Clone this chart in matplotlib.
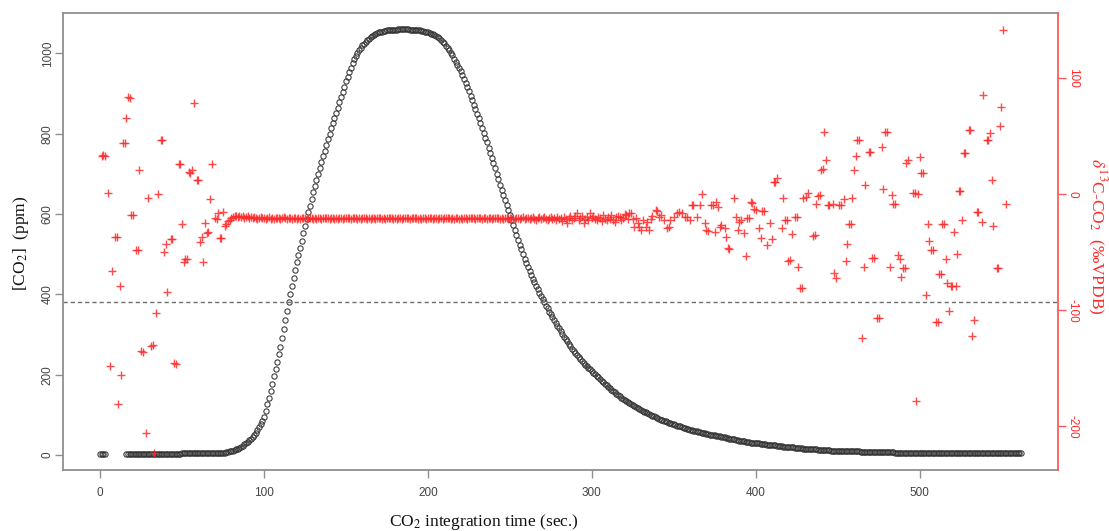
import matplotlib
matplotlib.use("Agg")
import matplotlib.pyplot as plt

plt.rcParams['mathtext.fontset'] = 'stix'
plt.rcParams['axes.unicode_minus'] = False

# ---------------- data ----------------
# CO2 concentration (ppm), one reading per second: t = 0..3, then 16..562
co2_ppm = [
    3, 3, 3, 3,
    3, 3, 3, 3, 3, 3, 3, 3, 3, 3, 3, 3, 3, 3, 3, 3, 3,
    3, 3, 3, 3, 3, 3, 3, 3, 3, 3, 3, 3, 3, 3, 3, 3, 3,
    4, 4, 4, 4, 4, 4, 4, 4, 4, 4, 4, 4, 4, 4, 4, 4, 4, 4, 4, 4,
    5, 5, 5, 5, 5, 6, 6, 7, 8, 9,
    10, 11, 12, 14, 16, 18, 20, 23, 27, 31,
    33, 37, 41, 46, 51, 56, 62, 69, 77, 85,
    94, 110, 126, 143, 160, 178, 196, 214, 232, 251,
    270, 291, 313, 335, 358, 380, 401, 421, 441, 461,
    480, 498, 516, 534, 552, 570, 587, 604, 621, 638,
    655, 670, 685, 700, 715, 730, 744, 758, 772, 786,
    800, 813, 826, 839, 852, 865, 878, 891, 904, 917,
    930, 941, 953, 964, 975, 985, 993, 1001, 1008, 1014,
    1020, 1024, 1028, 1032, 1036, 1040, 1043, 1046, 1048, 1050,
    1052, 1053, 1054, 1055, 1056, 1057, 1057, 1058, 1058, 1059,
    1059, 1059, 1060, 1060, 1060, 1060, 1060, 1060, 1060, 1059,
    1059, 1059, 1058, 1058, 1057, 1057, 1056, 1055, 1054, 1053,
    1052, 1050, 1049, 1047, 1045, 1043, 1040, 1037, 1033, 1029,
    1025, 1019, 1013, 1007, 1001, 995, 987, 979, 971, 963,
    955, 945, 935, 925, 915, 905, 894, 883, 872, 861,
    850, 838, 826, 814, 802, 790, 778, 765, 753, 740,
    728, 714, 700, 687, 673, 660, 648, 635, 623, 610,
    598, 585, 573, 560, 548, 535, 523, 512, 500, 489,
    478, 468, 458, 449, 439, 430, 421, 413, 404, 396,
    388, 380, 372, 365, 357, 350, 343, 336, 329, 322,
    315, 308, 302, 295, 289, 283, 277, 271, 265, 259,
    253, 248, 243, 238, 233, 229, 225, 221, 217, 213,
    209, 205, 201, 197, 193, 189, 185, 181, 177, 174,
    170, 167, 163, 160, 156, 153, 150, 146, 143, 140,
    137, 134, 131, 129, 126, 124, 121, 119, 116, 114,
    112, 110, 108, 106, 104, 102, 100, 98, 96, 94,
    92, 90, 88, 87, 85, 84, 82, 80, 79, 77,
    76, 75, 73, 72, 71, 69, 68, 67, 66, 64,
    63, 62, 61, 60, 59, 58, 57, 56, 55, 54,
    53, 52, 51, 51, 50, 49, 48, 47, 47, 46,
    45, 44, 43, 42, 41, 40, 40, 39, 38, 37,
    36, 35, 35, 34, 33, 33, 32, 31, 31, 30,
    30, 29, 29, 28, 28, 27, 27, 26, 26, 25,
    25, 24, 24, 23, 23, 22, 22, 21, 21, 20,
    20, 20, 19, 19, 18, 18, 18, 17, 17, 16,
    16, 16, 15, 15, 15, 14, 14, 14, 13, 13,
    13, 13, 12, 12, 12, 12, 11, 11, 11, 11,
    11, 10, 10, 10, 10, 10, 10, 9, 9, 9,
    9, 9, 9, 9, 8, 8, 8, 8, 8, 8,
    8, 8, 8, 7, 7, 7, 7, 7, 7, 7,
    7, 7, 7, 7, 7, 6, 6, 6, 6, 6,
    6, 6, 6, 6, 6, 6, 6, 6, 6, 6,
    6, 6, 6, 5, 5, 5, 5, 5, 5, 5,
    5, 5, 5, 5, 5, 5, 5, 5, 5, 5,
    5, 5, 5, 5, 5, 5, 4.5, 4.5, 4.5, 4.5,
    4.5, 4.5, 4.5, 4.5, 4.5, 4.5, 4.5, 4.5, 4.5, 4.5,
    4, 4, 4, 4, 4, 4, 4, 4, 4, 4,
    4, 4, 4, 4, 4, 4, 4, 4, 4, 4,
    4, 4, 4,
]
co2_t = [0, 1, 2, 3] + list(range(16, 16 + len(co2_ppm) - 4))

# delta13C (permil VPDB): early scattered readings
d13_t_early = [1, 2, 3, 5, 6, 7, 9, 10, 11, 12, 13, 14, 15, 16, 17, 18, 19, 20,
               22, 23, 24, 25, 26, 28, 29, 31, 32, 33, 34, 35, 37, 38, 39, 40,
               41, 43, 44, 45, 46, 48, 49, 50, 51, 52, 53, 54, 55, 56, 57, 59,
               60, 61, 62, 63, 64, 65, 66, 67, 68, 70, 71, 72, 73, 74, 75, 76,
               77, 78, 79, 80]
d13_early = [33, 34, 33, 1, -148, -66, -37, -37, -181, -79, -156, 44, 44, 66, 84, 83, -18, -18,
             -48, -48, 21, -135, -136, -206, -3, -131, -130, -223, -102, 0, 47, 47, -50, -43,
             -84, -38.5, -38.5, -145, -146, 26, 26, -26, -58, -56, -55.5, 19, 18.5, 21, 79, 12,
             12.5, -41, -36.5, -58, -24.5, -33, -32.5, -4, 26, -20.7, -21, -16, -37.5, -38, -15, -27,
             -26, -23, -22, -20]

# stable plateau, one reading per second from t = 81
d13_plateau = [
    -19.5, -19, -18.8, -19.2, -18.5, -19.6, -19, -20.2, -19.4, -18.9,
    -20.1, -19.7, -20.6, -19.8, -20.3, -21, -20.4, -19.9, -20.8, -20.2,
    -21.2, -20.5, -19.8, -20.9, -20.3, -21.1, -20.6, -20, -20.7, -21.3,
    -20.4, -19.9, -20.8, -21, -20.2, -20.6, -21.4, -20.1, -20.5, -20.9,
    -20.3, -21.1, -20.7, -20.2, -20.8, -21.2, -20.4, -20, -20.6, -21,
    -20.5, -20.9, -20.2, -20.7, -21.3, -20.4, -20.8, -20.1, -20.6, -21.1,
    -20.3, -20.7, -21, -20.4, -20.9, -20.2, -20.6, -21.2, -20.5, -20.8,
    -20.1, -20.7, -21, -20.4, -20.8, -20.3, -20.9, -20.5, -21.1, -20.6,
    -20.2, -20.8, -21.3, -20.5, -20.9, -20.1, -20.7, -21, -20.4, -20.8,
    -20.3, -20.9, -20.6, -21.2, -20.4, -20.7, -20.1, -20.8, -21, -20.5,
    -20.9, -20.3, -20.6, -21.1, -20.4, -20.8, -20.2, -20.7, -21.2, -20.5,
    -20.8, -20.1, -20.6, -21, -20.4, -20.9, -20.3, -20.7, -21.1, -20.5,
    -20.2, -20.8, -21.3, -20.6, -20.4, -20.9, -20.1, -20.7, -21, -20.5,
    -20.8, -20.3, -20.6, -21.1, -20.4, -20.9, -20.2, -20.7, -21.2, -20.5,
    -20.9, -20.3, -20.6, -21, -20.4, -20.8, -20.1, -20.7, -21.1, -20.5,
    -20.2, -20.8, -21.2, -20.6, -20.4, -20.9, -20.3, -20.7, -21, -20.5,
    -20.8, -20.1, -20.6, -21.3, -20.4, -20.9, -20.2, -20.7, -21.1, -20.5,
    -20.3, -20.9, -21.4, -20.6, -20, -21, -20.5, -19.8, -21.2, -20.7,
    -20.1, -21.5, -20.6, -19.7, -21, -22, -20.4, -19.9, -21.6, -20.8,
    -19.5, -21.3, -22.2, -20.5, -19.8, -21.7, -20.2, -22.5, -19.6, -21,
    -20.4, -22.8, -19.2, -21.5, -25, -20.1, -18.9, -22.3, -20.6, -19,
    -16.4, -21.8, -20.3, -18.5, -25, -20.9, -19.4, -22.1, -16.4, -20.5,
    -18.7, -21.5, -22, -19.2, -20.7, -23, -18.2, -21.4, -22, -19.6,
    -20.9, -17.5, -21.8, -23.6, -19.9, -18.4, -19.3, -22.5, -20.2, -17.2,
    -17.8, -21,
]
d13_t_plateau = list(range(81, 81 + len(d13_plateau)))

# late scattered readings (low CO2 tail)
d13_t_late = [323, 324, 325, 326, 327, 328, 329, 330, 331, 333, 334, 335, 336, 337, 339, 340,
              341, 342, 344, 346, 347, 348, 350, 352, 353, 355, 357, 358, 360, 361, 362, 364,
              366, 367, 369, 370, 371, 373, 374, 375, 376, 377, 378, 379, 381, 382, 383, 384,
              387, 388, 389, 390, 391, 393, 394, 395, 396, 397, 398, 399, 400, 402, 403, 404,
              405, 407, 409, 410, 411, 412, 413, 416, 417, 418, 419, 420, 421, 422, 424, 425,
              426, 427, 428, 429, 431, 432, 435, 436, 437, 438, 439, 440, 441, 442, 443, 444,
              445, 447, 448, 449, 451, 452, 454, 455, 456, 457, 458, 459, 460, 461, 462, 463,
              465, 466, 467, 469, 470, 471, 472, 474, 475, 477, 478, 479, 480, 482, 483, 484,
              485, 487, 488, 489, 490, 491, 492, 493, 496, 497, 498, 499, 500, 501, 502, 504,
              505, 506, 507, 508, 510, 511, 512, 513, 514, 515, 516, 517, 518, 519, 520, 521,
              522, 523, 524, 525, 526, 527, 528, 530, 531, 532, 533, 535, 536, 538, 539, 541,
              542, 543, 544, 545, 547, 548, 549, 550, 551, 553]
d13_late = [-16.4, -15.8, -21, -28, -20.7, -25, -28, -31, -22, -28, -24, -30.7, -21, -19, -13.5, -14.4,
            -19.3, -17.8, -22.1, -29.3, -28.4, -22, -19.3, -16.4, -15.5, -15.8, -19.3, -19.3, -22.1, -9.2, -9.2, -19.3,
            -9.2, 0, -25, -30.7, -31.3, -9.2, -9.2, -32.2, -6.4, -11.2, -27.9, -26.4, -29.3, -37, -46.5, -47,
            -3.4, -19.3, -30.7, -23.6, -22.1, -33.6, -53.1, -20.7, -20.7, -7, -7.2, -12.9, -13.5, -29.3, -37.9, -14.1,
            -14.4, -43.7, -25, -38.8, 10.9, 11, 14, -29.3, -2.9, -22.1, -22, -57.4, -57, -34.5, -19.8, -19.5,
            -62.4, -80.5, -81, -3, -2.1, 1.4, -35.9, -35.5, -8.5, -1.5, -0.6, 21, 21.8, 53.9, 29.5, -9.2,
            -9.2, -8.6, -68, -72, -9.2, -9, -4.3, -57.5, -43, -25.6, -25.3, -3.4, 20.9, 32.7, 46.8, 46.5,
            -124, -62.9, 8, 36.7, 36.5, -55.1, -55, -106.5, -106.8, 41, 4.3, 53.9, 54, -62.4, -1, -8.4,
            -8.2, -52.3, -56, -71.6, -63.7, -63.5, 27.2, 29.5, 1.4, 1.2, -178, 0, 31.7, 18.1, 18.3, -86.7,
            -25.6, -40, -48, -48.2, -110.3, -110, -68.7, -68.9, -25.6, -25.8, -55.5, -76.7, -100.8, -79, -79, -32.7,
            -79, -51.5, 2.8, 2.6, -21.8, 35.8, 35.6, 55.7, 55.5, -122, -108, -15.3, -15.5, -23.9, 85.8, 46.5,
            46.8, 52.8, 12.6, -27.6, -63.7, -63.5, 59.1, 75.2, 141.5, -8.6]

d13_t = d13_t_early + d13_t_plateau + d13_t_late
d13 = d13_early + d13_plateau + d13_late

ambient_ppm = 380

x_ticks = [0, 100, 200, 300, 400, 500]
left_ticks = [0, 200, 400, 600, 800, 1000]
right_ticks = [-200, -100, 0, 100]

# ---------------- plot ----------------
W, H = 1109, 531
fig = plt.figure(figsize=(W / 100, H / 100), dpi=100)
ax = fig.add_axes([63.3 / W, 1 - 470 / H, (1058.3 - 63.3) / W, (470 - 13.3) / H])
ax2 = ax.twinx()

frame_col = '#8f8f8f'
tick_col = '#444444'
red = '#ff2a2a'

ax.plot(co2_t, co2_ppm, linestyle='none', marker='o', ms=3.8, mfc='none',
        mec='#333333', mew=0.75)
ax.axhline(ambient_ppm, color='#6e6e6e', lw=1.0, ls=(0, (3, 2.2)))

ax2.plot(d13_t, d13, linestyle='none', marker='+', ms=6.0, mew=1.0, color=red, alpha=0.85)

ax.set_xlim(-22.5, 584.7)
ax.set_ylim(-37.3, 1099.6)
ax2.set_ylim(-237.5, 155.9)

ax.set_xticks(x_ticks)
ax.set_yticks(left_ticks)
ax2.set_yticks(right_ticks)

for sp in ['left', 'top', 'bottom']:
    ax.spines[sp].set_color(frame_col)
    ax.spines[sp].set_linewidth(1.3)
ax.spines['right'].set_visible(False)
for sp in ['left', 'top', 'bottom']:
    ax2.spines[sp].set_visible(False)
ax2.spines['right'].set_color('#ff5a5a')
ax2.spines['right'].set_linewidth(1.3)

ax.tick_params(axis='x', length=6, width=1.0, color=frame_col, labelcolor=tick_col, pad=6)
ax.tick_params(axis='y', length=6, width=1.0, color=frame_col, labelcolor=tick_col, pad=1)
ax2.tick_params(axis='y', length=6, width=1.0, color='#ff5a5a', labelcolor=red, pad=0)

for lab in ax.get_xticklabels():
    lab.set_fontproperties('Liberation Sans')
    lab.set_fontsize(8.5)
for lab in ax.get_yticklabels():
    lab.set_fontproperties('Liberation Sans')
    lab.set_fontsize(8.5)
    lab.set_rotation(90)
    lab.set_va('center')
for lab in ax2.get_yticklabels():
    lab.set_fontproperties('Liberation Sans')
    lab.set_fontsize(8.5)
    lab.set_rotation(-90)
    lab.set_va('center')

serif = 'Liberation Serif'
fig.text(484 / W, 1 - 522 / H, r'CO$_2$ integration time (sec.)', family=serif,
         fontsize=12.5, ha='center', va='center', color='#111111')
fig.text(21 / W, 1 - 243 / H, r'[CO$_2$]  (ppm)', family=serif, fontsize=12.5,
         rotation=90, ha='center', va='center', color='#111111')
fig.text(1097 / W, 1 - 236 / H, r'$\delta^{13}$C-CO$_2$  (‰VPDB)', family=serif,
         fontsize=12.5, rotation=-90, ha='center', va='center', color=red)

fig.savefig('out.png', dpi=100)
